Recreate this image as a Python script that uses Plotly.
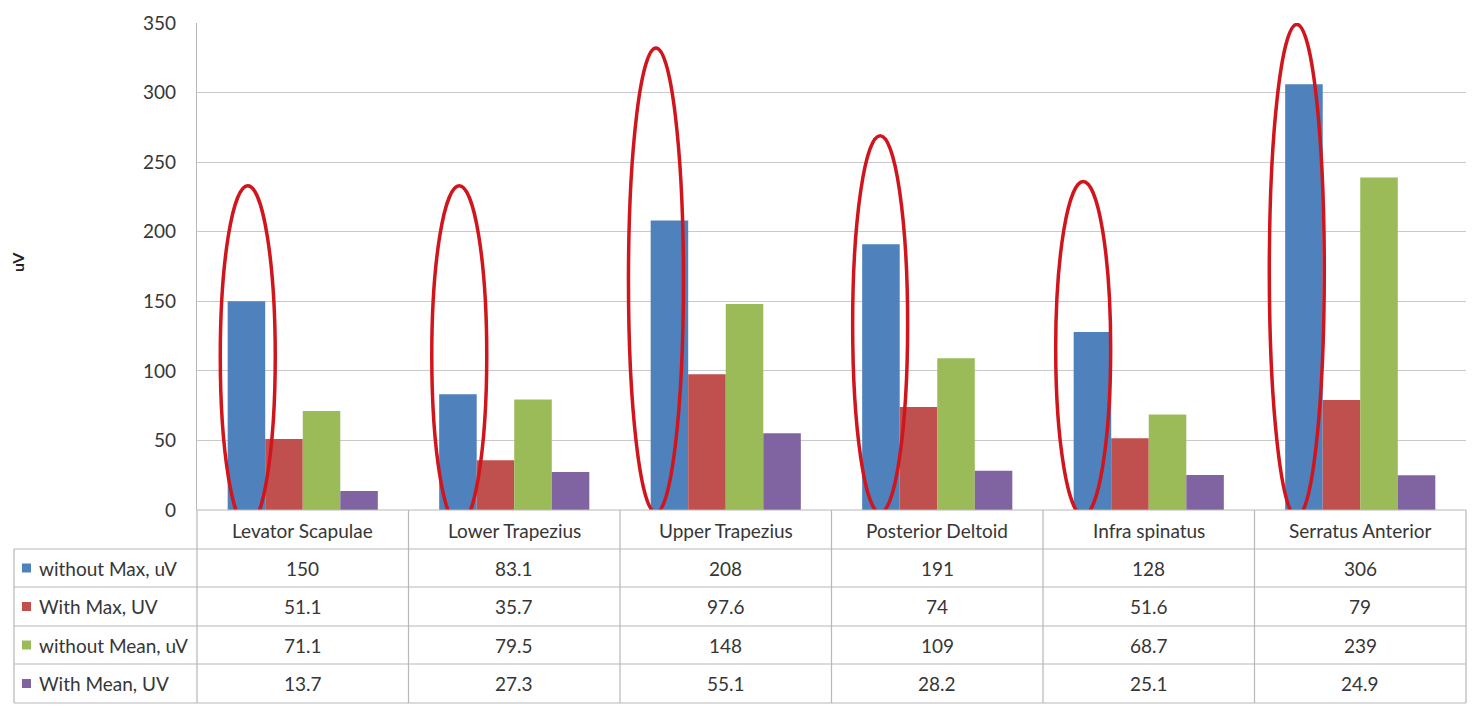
import plotly.graph_objects as go

# Muscle groups and measured EMG amplitudes (uV)
muscles = ["Levator Scapulae", "Lower Trapezius", "Upper Trapezius",
           "Posterior Deltoid", "Infra spinatus", "Serratus Anterior"]
series_names = ["without Max, uV", "With Max, UV", "without Mean, uV", "With Mean, UV"]
without_max = [150, 83.1, 208, 191, 128, 306]
with_max = [51.1, 35.7, 97.6, 74, 51.6, 79]
without_mean = [71.1, 79.5, 148, 109, 68.7, 239]
with_mean = [13.7, 27.3, 55.1, 28.2, 25.1, 24.9]
y_ticks = [0, 50, 100, 150, 200, 250, 300, 350]

series_values = [without_max, with_max, without_mean, with_mean]
colors = ["#4F81BD", "#C0504D", "#9BBB59", "#8064A2"]

W, H = 1477, 706
L, R, T, B = 197, 11, 23, 196
plot_w = W - L - R
plot_h = H - T - B

def px_x(x):
    return (x - L) / plot_w

def px_y(y):
    return (H - B - y) / plot_h

FONT = "Lato, Carlito, Calibri, sans-serif"
TXT = "#363636"
GRID = "#c9c9c9"

fig = go.Figure()
for name, vals, col in zip(series_names, series_values, colors):
    fig.add_trace(go.Bar(x=list(range(len(muscles))), y=vals, name=name,
                         marker=dict(color=col, line=dict(width=0)),
                         showlegend=False))

shapes = []
annotations = []

# Red highlight ellipses around the first series: (centre offset, top, bottom) in axis units
highlights = [(-0.26, 233, -12), (-0.26, 233, -11), (-0.33, 332, -2),
              (-0.27, 269, -2), (-0.31, 236, -4), (-0.30, 349, -5)]
half_w = 0.13
for i, (off, top, bot) in enumerate(highlights):
    shapes.append(dict(type="circle", xref="x", yref="y",
                       x0=i + off - half_w, x1=i + off + half_w, y0=bot, y1=top,
                       line=dict(color="#D0161C", width=3.5), layer="above"))

# Data table below the plot
row_lines = [510, 549, 587, 626, 664, 703]
col_edges = [L + k * plot_w / len(muscles) for k in range(len(muscles) + 1)]
tbl_left = 14
line_style = dict(color="#b8b8b8", width=1.2)

for k, y in enumerate(row_lines):
    x0 = L if k == 0 else tbl_left
    shapes.append(dict(type="line", xref="paper", yref="paper",
                       x0=px_x(x0), x1=px_x(col_edges[-1]), y0=px_y(y), y1=px_y(y),
                       line=line_style))
for k, x in enumerate(col_edges):
    shapes.append(dict(type="line", xref="paper", yref="paper",
                       x0=px_x(x), x1=px_x(x), y0=px_y(row_lines[0]), y1=px_y(row_lines[-1]),
                       line=line_style))
shapes.append(dict(type="line", xref="paper", yref="paper",
                   x0=px_x(tbl_left), x1=px_x(tbl_left), y0=px_y(row_lines[1]), y1=px_y(row_lines[-1]),
                   line=line_style))

def mid(a, b):
    return (a + b) / 2

def label(x, y, text, anchor="center", size=19, color=TXT, **kw):
    return dict(xref="paper", yref="paper", x=px_x(x), y=px_y(y), text=text,
                xanchor=anchor, yanchor="middle", showarrow=False,
                font=dict(family=FONT, size=size, color=color), **kw)

# Category header row
for j, m in enumerate(muscles):
    annotations.append(label(mid(col_edges[j], col_edges[j + 1]),
                             mid(row_lines[0], row_lines[1]) + 1, m))

# Value rows with legend keys
for r, (name, vals, col) in enumerate(zip(series_names, series_values, colors)):
    yc = mid(row_lines[r + 1], row_lines[r + 2])
    shapes.append(dict(type="rect", xref="paper", yref="paper",
                       x0=px_x(22), x1=px_x(31), y0=px_y(yc + 4.5), y1=px_y(yc - 4.5),
                       fillcolor=col, line=dict(width=0)))
    annotations.append(label(37, yc, name, anchor="left"))
    for j, v in enumerate(vals):
        annotations.append(label(mid(col_edges[j], col_edges[j + 1]), yc, f"{v:g}"))

# Vertical axis title
annotations.append(label(17, 262, "<b>uV</b>", size=16, color="#222222", textangle=-90))

fig.update_layout(
    width=W, height=H,
    margin=dict(l=L, r=R, t=T, b=B),
    paper_bgcolor="white", plot_bgcolor="white",
    barmode="group", bargap=0.29, bargroupgap=0,
    shapes=shapes, annotations=annotations,
    xaxis=dict(range=[-0.5, len(muscles) - 0.5], showticklabels=False,
               showgrid=False, zeroline=False, showline=False, fixedrange=True),
    yaxis=dict(range=[0, 350], tickvals=y_ticks, showgrid=True, gridcolor=GRID,
               gridwidth=1.2, zeroline=False, showline=True, linecolor="#b8b8b8",
               linewidth=1.2, ticks="", ticklabelstandoff=16,
               tickfont=dict(family=FONT, size=19, color=TXT)),
)

fig.write_html("out.html")
